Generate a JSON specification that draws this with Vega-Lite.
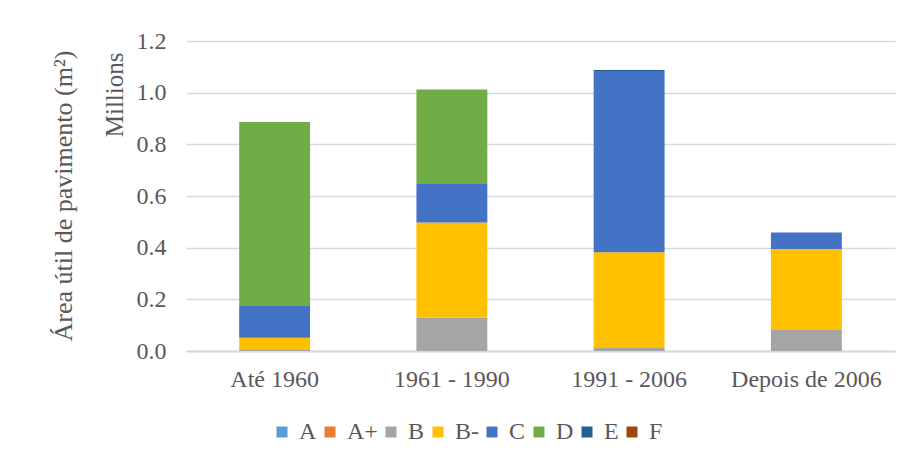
{
  "$schema": "https://vega.github.io/schema/vega-lite/v6.json",
  "width": 709,
  "height": 310,
  "padding": {"left": 50, "top": 29, "right": 5, "bottom": 5},
  "background": "white",
  "title": {
    "text": "Área útil de pavimento (m²)",
    "orient": "left",
    "anchor": "middle",
    "frame": "group",
    "offset": 25,
    "font": "Liberation Serif",
    "fontSize": 26,
    "fontWeight": "normal",
    "color": "#595959"
  },
  "data": {
    "values": [
      {"periodo": "Até 1960", "classe": "B", "area": 7000},
      {"periodo": "Até 1960", "classe": "B-", "area": 44000},
      {"periodo": "Até 1960", "classe": "C", "area": 126000},
      {"periodo": "Até 1960", "classe": "D", "area": 709000},
      {"periodo": "1961 - 1990", "classe": "B", "area": 129000},
      {"periodo": "1961 - 1990", "classe": "B-", "area": 368000},
      {"periodo": "1961 - 1990", "classe": "C", "area": 152000},
      {"periodo": "1961 - 1990", "classe": "D", "area": 363000},
      {"periodo": "1991 - 2006", "classe": "B", "area": 12000},
      {"periodo": "1991 - 2006", "classe": "B-", "area": 370000},
      {"periodo": "1991 - 2006", "classe": "C", "area": 702000},
      {"periodo": "1991 - 2006", "classe": "E", "area": 4000},
      {"periodo": "Depois de 2006", "classe": "B", "area": 81000},
      {"periodo": "Depois de 2006", "classe": "B-", "area": 314000},
      {"periodo": "Depois de 2006", "classe": "C", "area": 64000}
    ]
  },
  "mark": {"type": "bar"},
  "encoding": {
    "x": {
      "field": "periodo",
      "type": "nominal",
      "sort": ["Até 1960", "1961 - 1990", "1991 - 2006", "Depois de 2006"],
      "scale": {"paddingInner": 0.6, "paddingOuter": 0.3},
      "axis": {
        "title": null,
        "labelAngle": 0,
        "labelPadding": 16,
        "ticks": false,
        "domain": true,
        "domainColor": "#d9d9d9",
        "domainWidth": 2,
        "labelFont": "Liberation Serif",
        "labelFontSize": 24,
        "labelColor": "#595959"
      }
    },
    "y": {
      "field": "area",
      "type": "quantitative",
      "aggregate": "sum",
      "stack": "zero",
      "scale": {"domain": [0, 1200000], "nice": false},
      "axis": {
        "title": "Millions",
        "titleAnchor": "end",
        "titleY": 11,
        "titleAlign": "right",
        "titlePadding": 9,
        "titleFont": "Liberation Serif",
        "titleFontSize": 25,
        "titleFontWeight": "normal",
        "titleColor": "#595959",
        "values": [0, 200000, 400000, 600000, 800000, 1000000, 1200000],
        "labelExpr": "format(datum.value / 1000000, '.1f')",
        "labelFont": "Liberation Serif",
        "labelFontSize": 24,
        "labelColor": "#595959",
        "labelPadding": 20,
        "ticks": false,
        "domain": false,
        "grid": true,
        "gridColor": "#d9d9d9",
        "gridWidth": 1.5
      }
    },
    "color": {
      "field": "classe",
      "type": "nominal",
      "scale": {
        "domain": ["A", "A+", "B", "B-", "C", "D", "E", "F"],
        "range": ["#5b9bd5", "#ed7d31", "#a5a5a5", "#ffc000", "#4472c4", "#70ad47", "#255e91", "#9e480e"]
      },
      "legend": {
        "title": null,
        "orient": "none",
        "direction": "horizontal",
        "legendX": 84,
        "legendY": 379,
        "symbolType": "square",
        "symbolSize": 121,
        "symbolStrokeWidth": 0,
        "labelFont": "Liberation Serif",
        "labelFontSize": 24,
        "labelColor": "#595959",
        "labelOffset": 5,
        "columnPadding": 1
      }
    },
    "order": {"field": "classe", "sort": "ascending"}
  },
  "config": {
    "view": {"stroke": null}
  }
}
